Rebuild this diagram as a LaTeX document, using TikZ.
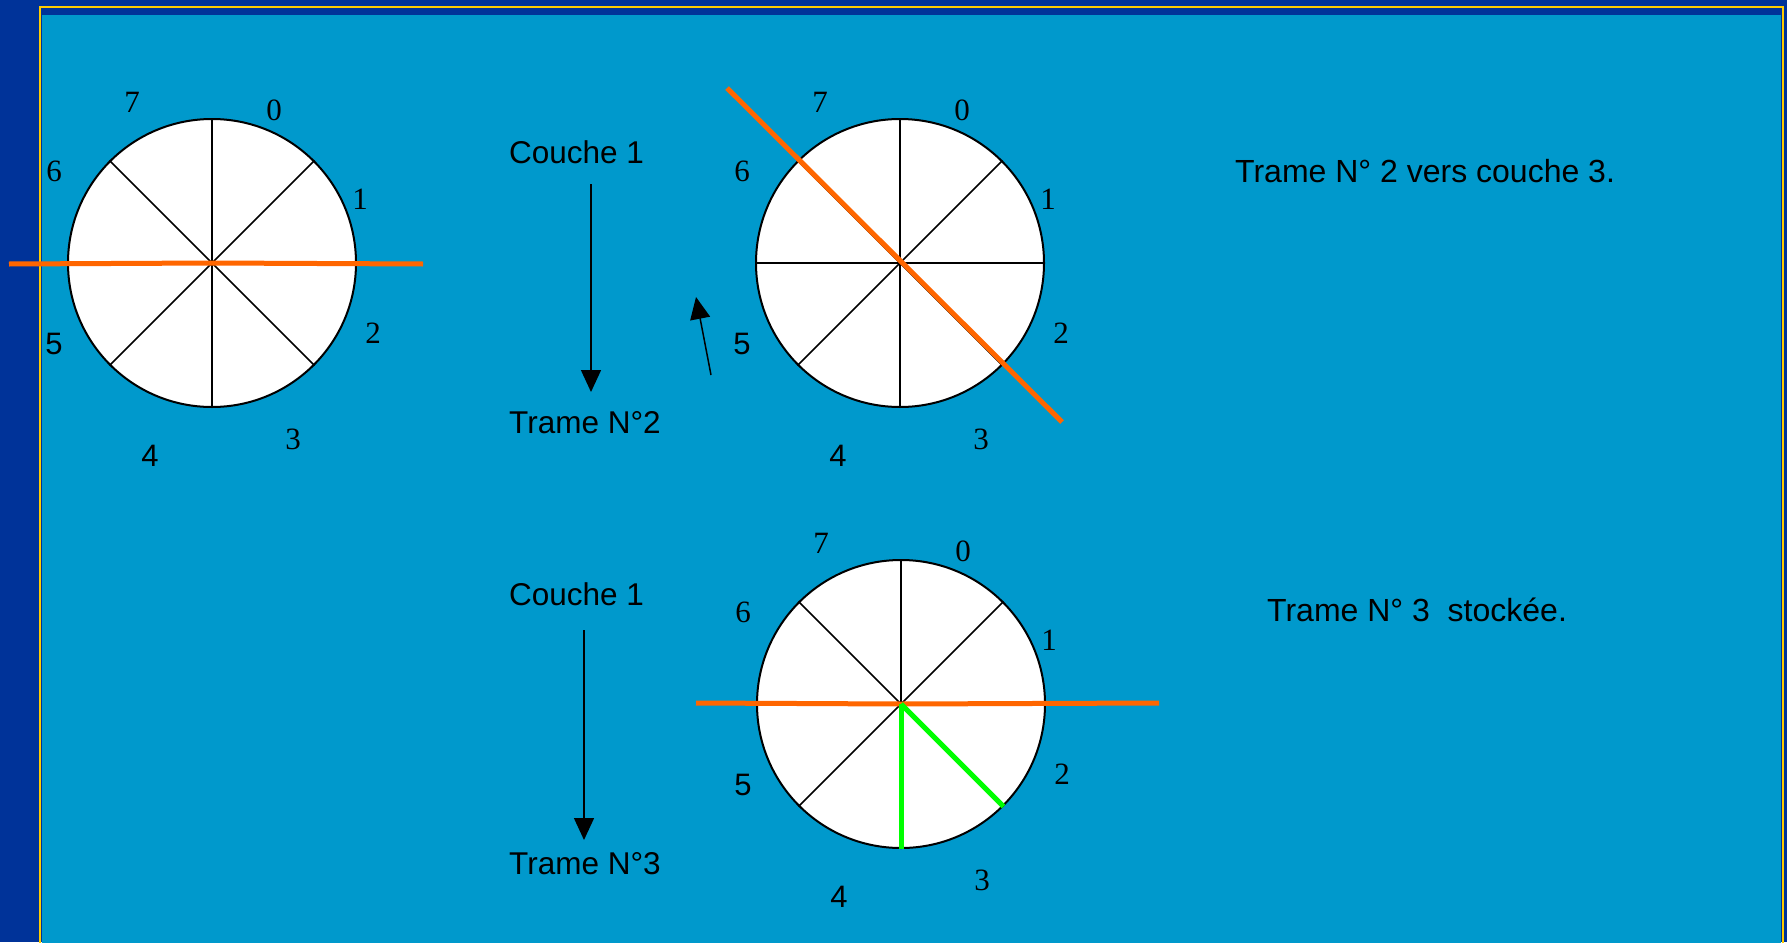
\documentclass[tikz,border=0pt]{standalone}
\usepackage{fontspec}
\setmainfont{Liberation Sans}
\newfontfamily\serifdig{Liberation Serif}
\usetikzlibrary{arrows.meta,calc}
\definecolor{deepblue}{RGB}{0,51,153}
\definecolor{skyblue}{RGB}{0,153,204}
\definecolor{frameyellow}{RGB}{255,204,0}
\definecolor{cutorange}{RGB}{255,102,0}
\definecolor{litgreen}{RGB}{0,255,0}
\tikzset{
  wheel/.style={circle, draw=black, line width=2pt, fill=white, minimum size=288pt, inner sep=0pt},
  spoke/.style={draw=black, line width=1.5pt},
  cut/.style={draw=cutorange, line width=5pt},
  hit/.style={draw=litgreen, line width=5pt},
  numser/.style={inner sep=0pt, font=\fontsize{31}{31}\serifdig},
  numsans/.style={inner sep=0pt, font=\fontsize{31}{31}\selectfont},
  txt/.style={inner sep=0pt, anchor=west, font=\fontsize{31.5}{31.5}\selectfont},
  note/.style={inner sep=0pt, anchor=west, font=\fontsize{32}{32}\selectfont},
  flow/.style={draw=black, line width=1.5pt, -{Triangle[length=22pt,width=20pt]}},
}
\newcommand\drawwheel[3]{%
  \node[wheel] (#1) at (#2,#3) {};
  \foreach \a in {0,45,...,315} \draw[spoke] (#1.center) -- (#1.\a);
  \node[numser]  (#1-0) at ($(#1)+(62,-153)$) {0};
  \node[numser]  (#1-1) at ($(#1)+(148,-64)$) {1};
  \node[numser]  (#1-2) at ($(#1)+(161,70)$) {2};
  \node[numser]  (#1-3) at ($(#1)+(81,176)$) {3};
  \node[numsans] (#1-4) at ($(#1)+(-62,193)$) {4};
  \node[numsans] (#1-5) at ($(#1)+(-158,81)$) {5};
  \node[numser]  (#1-6) at ($(#1)+(-158,-92)$) {6};
  \node[numser]  (#1-7) at ($(#1)+(-80,-161)$) {7};
}
\begin{document}
\begin{tikzpicture}[x=1pt,y=-1pt]
\useasboundingbox (0,0) rectangle (1787,942);
\fill[deepblue] (0,0) rectangle (1787,942);
\fill[skyblue] (42,15) rectangle (1781,960);
\draw[frameyellow, line width=2.5pt] (40,7) rectangle (1783,990);

% wheels
\drawwheel{c1}{212}{263}
\drawwheel{c2}{900}{263}
\drawwheel{c3}{901}{704}

% cut lines
\coordinate (o1a) at (9,264);
\coordinate (o1b) at (423,264);
\draw[cut] (o1a) -- (c1.center) -- (o1b);
\coordinate (o2a) at (727,88);
\coordinate (o2b) at (1062,422);
\draw[cut] (o2a) -- (o2b);
\coordinate (o3a) at (696,703);
\coordinate (o3b) at (1159,703);
\draw[cut] (o3a) -- (c3.center) -- (o3b);
\draw[hit] (c3.center) -- (c3.south);
\draw[hit] (c3.center) -- (c3.-45);

% texts
\node[txt] (couche-a) at (509,152) {Couche 1};
\node[txt] (trame-a) at (509,423) {Trame N°2};
\node[txt] (couche-b) at (509,594) {Couche 1};
\node[txt] (trame-b) at (509,864) {Trame N°3};
\node[note] (note-a) at (1235,171) {Trame N° 2 vers couche 3.};
\node[note] (note-b) at (1267,610) {Trame N° 3\ \ stockée.};

% arrows
\coordinate (a1s) at (591,184);
\coordinate (a1e) at (591,392);
\draw[flow] (a1s) -- (a1e);
\coordinate (a2s) at (584,630);
\coordinate (a2e) at (584,840);
\draw[flow] (a2s) -- (a2e);
\coordinate (a3s) at (711,375);
\coordinate (a3e) at (696,297);
\draw[flow] (a3s) -- (a3e);
\end{tikzpicture}
\end{document}
